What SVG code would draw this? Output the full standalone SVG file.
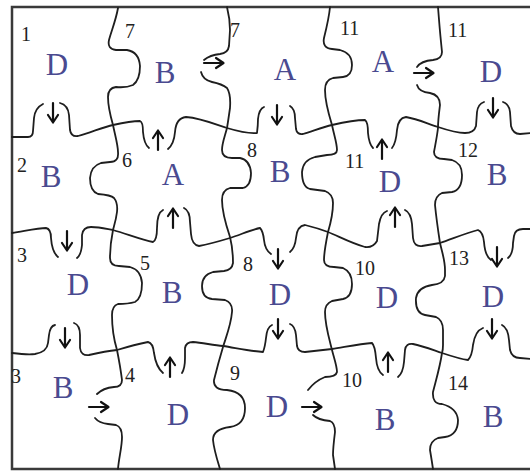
<svg xmlns="http://www.w3.org/2000/svg" xmlns:xlink="http://www.w3.org/1999/xlink" width="530" height="473" viewBox="0 0 530 473">
<style>
.cut{fill:none;stroke:#1e1e1e;stroke-width:1.8;stroke-linecap:round;stroke-linejoin:round}
.frame{fill:none;stroke:#3a3a3a;stroke-width:2.5}
.L{font-family:"Liberation Serif",serif;font-size:31px;fill:#4a4a90;text-anchor:middle}
.N{font-family:"Liberation Serif",serif;font-size:20px;fill:#222}
.arr{fill:none;stroke:#111;stroke-width:2.2;stroke-linecap:round;stroke-linejoin:round}
</style>
<defs>
<g id="ad"><path class="arr" d="M0,-10 L0,8"/><path class="arr" d="M-5,2 L0,9.5 L5,2"/></g>
</defs>
<rect width="530" height="473" fill="#fff"/>
<path class="frame" d="M531,7 L12,7 L12,469 L531,469"/>

<g id="cuts">
<path class="cut" d="M12,137 L28,137 Q33,137 33,131 L34,118 Q35,108 43,104"/>
<path class="cut" d="M60,103 Q68,105 69,115 L70,130 Q71,137 78,136 C90,133 103,127 113,125 C122,123 132,121 140,121 Q143,122 143,132 Q144,144 149,148"/>
<path class="cut" d="M168,149 Q174,144 175,132 Q176,118 186,117 C200,118 215,124 227,128 C237,131 248,134 257,133 Q258,125 258,119 Q259,109 264,107"/>
<path class="cut" d="M290,106 Q295,109 295,118 L296,129 Q297,135 303,134 C313,131 323,127 332,125 C345,122 355,120 365,120 Q368,122 368,133 Q369,144 373,148"/>
<path class="cut" d="M392,148 Q396,143 397,130 Q398,118 406,117 C418,119 428,124 438,127 C447,130 456,133 465,133 Q474,133 476,126 L477,112 Q478,104 484,102"/>
<path class="cut" d="M503,102 Q509,104 510,112 L511,126 Q513,134 520,134 L531,133"/>
<path class="cut" d="M12,233 C25,231 38,228 46,228 Q51,229 51,238 Q52,252 58,257"/>
<path class="cut" d="M77,258 Q81,255 82,245 L82,235 Q83,227 91,227 C100,227 107,229 113,230 C127,234 142,240 153,242 Q157,240 157,228 Q157,213 163,210"/>
<path class="cut" d="M184,208 Q190,211 190,222 L191,234 Q192,245 199,246 C210,244 220,241 230,238 C240,235 250,230 260,228 Q263,231 264,240 Q265,250 271,254"/>
<path class="cut" d="M290,252 Q295,248 296,238 Q297,226 305,225 C313,227 320,229 328,232 C340,237 353,244 365,247 Q373,248 377,241 L379,224 Q381,213 387,211"/>
<path class="cut" d="M405,210 Q411,213 412,224 L413,238 Q414,247 422,246 C428,245 434,244 440,243 C452,239 466,233 478,230 Q483,232 484,242 Q485,256 491,260"/>
<path class="cut" d="M508,258 Q513,254 513,243 L514,236 Q515,229 523,229 L531,229"/>
<path class="cut" d="M12,353 C20,354 28,355 35,354 Q47,352 48,343 L49,335 Q50,326 55,325"/>
<path class="cut" d="M74,323 Q80,325 80,335 L80,348 Q81,356 89,355 C98,353 108,351 117,350 C127,347 138,344 148,342 Q153,343 154,353 Q156,367 163,373"/>
<path class="cut" d="M182,373 Q185,368 185,358 L185,348 Q186,342 193,342 C203,343 213,345 223,346 C236,348 250,351 263,352 Q265,347 266,338 Q267,327 272,325"/>
<path class="cut" d="M290,324 Q295,326 296,335 L297,346 Q298,352 305,352 C314,351 323,350 332,349 C345,347 360,344 372,343 Q375,346 376,358 Q377,371 383,375"/>
<path class="cut" d="M398,377 Q403,373 404,362 L405,350 Q406,343 413,344 C423,346 433,350 442,353 C451,356 460,359 468,360 Q472,356 473,345 Q475,331 483,328"/>
<path class="cut" d="M502,325 Q508,328 509,340 L510,350 Q512,358 520,358 L531,359"/>
<path class="cut" d="M118,8 C116,20 111,32 109,40 Q107,49 116,50 L127,50 Q139,52 140,66 Q140,80 133,85 Q126,88 116,87 Q108,88 108,97 C108,107 111,118 113,125 C115,135 118,145 118,152 Q119,162 110,162 L101,163 Q91,166 90,178 Q90,191 98,194 Q111,195 114,198 Q118,203 117,212 C116,220 114,226 113,230 C111,240 110,250 110,258 Q110,266 119,266 L130,267 Q141,270 142,283 Q142,298 135,302 Q128,304 118,304 Q112,306 112,315 C112,325 114,340 117,350 C119,360 121,372 122,380 Q122,387 114,387 Q103,388 97,394"/>
<path class="cut" d="M95,418 Q99,423 108,424 L116,425 Q122,427 122,437 C122,447 119,457 118,469"/>
<path class="cut" d="M227,7 C229,15 230,22 230,30 L229,46 Q228,53 220,54 Q210,55 204,60"/>
<path class="cut" d="M201,72 Q203,80 212,82 Q222,84 227,88 Q231,94 230,108 C229,115 228,122 227,128 C225,136 222,143 222,150 Q222,158 232,158 L240,158 Q250,160 251,173 Q251,186 243,188 L230,188 Q222,190 222,200 C222,210 225,222 230,237 C232,245 233,255 233,263 Q232,270 224,271 L213,272 Q202,275 202,286 Q202,298 212,299 L225,300 Q233,303 232,312 C231,325 226,337 223,347 C220,357 217,368 214,380 Q213,390 227,390 Q245,392 245,408 Q245,425 230,427 Q213,429 213,440 C214,450 217,459 220,469"/>
<path class="cut" d="M330,7 C329,18 326,30 324,38 Q322,48 332,49 L340,50 Q352,53 352,65 Q352,76 343,77 L333,78 Q325,80 325,90 C325,100 328,112 332,125 C334,135 337,143 337,150 Q337,155 327,155 L315,157 Q303,160 302,172 Q302,187 310,189 L325,191 Q333,194 333,203 C333,212 331,222 328,232 C326,242 324,252 324,260 Q324,267 334,267 L343,268 Q352,272 352,284 Q352,297 343,299 L332,301 Q325,304 325,312 C325,325 329,338 332,350 C334,358 337,366 337,372 Q336,377 325,377 Q315,381 308,390"/>
<path class="cut" d="M313,415 Q318,420 330,421 Q335,423 335,432 C334,440 333,448 333,455 Q334,462 335,469"/>
<path class="cut" d="M438,7 C439,20 440,32 441,42 L442,52 Q442,59 433,60 Q421,61 417,67"/>
<path class="cut" d="M417,85 Q419,92 430,93 Q440,95 440,105 C439,113 438,120 438,128 C437,137 435,146 434,152 Q434,159 444,159 L452,160 Q462,163 462,175 Q462,190 452,192 L442,193 Q435,196 435,205 C436,215 438,230 440,243 C442,252 445,260 445,270 L445,276 Q444,284 432,285 Q418,287 416,298 Q415,313 425,315 L436,317 Q443,320 443,330 L443,345 Q443,350 442,353 C440,367 436,380 433,392 Q432,404 442,404 Q457,408 458,420 Q458,435 445,437 L438,438 Q430,441 430,450 C431,456 432,462 433,469"/>
</g>

<g id="arrows">
<use xlink:href="#ad" transform="translate(53,113)"/>
<use xlink:href="#ad" transform="translate(158,140) rotate(180)"/>
<use xlink:href="#ad" transform="translate(277,115)"/>
<use xlink:href="#ad" transform="translate(382,149) rotate(180)"/>
<use xlink:href="#ad" transform="translate(493,108)"/>
<use xlink:href="#ad" transform="translate(214,63) rotate(-90)"/>
<use xlink:href="#ad" transform="translate(424,73) rotate(-90)"/>
<use xlink:href="#ad" transform="translate(67,241)"/>
<use xlink:href="#ad" transform="translate(173,218) rotate(180)"/>
<use xlink:href="#ad" transform="translate(278,259)"/>
<use xlink:href="#ad" transform="translate(395,217) rotate(180)"/>
<use xlink:href="#ad" transform="translate(497,257)"/>
<use xlink:href="#ad" transform="translate(65,338)"/>
<use xlink:href="#ad" transform="translate(170,367) rotate(180)"/>
<use xlink:href="#ad" transform="translate(278,329)"/>
<use xlink:href="#ad" transform="translate(388,362) rotate(180)"/>
<use xlink:href="#ad" transform="translate(492,329)"/>
<use xlink:href="#ad" transform="translate(99,407) rotate(-90)"/>
<use xlink:href="#ad" transform="translate(312,407) rotate(-90)"/>
</g>

<g id="p1"><text class="N" x="21" y="41">1</text><text class="L" x="57" y="75">D</text></g>
<g id="p2"><text class="N" x="125" y="38">7</text><text class="L" x="165" y="83">B</text></g>
<g id="p3"><text class="N" x="230" y="37">7</text><text class="L" x="285" y="80">A</text></g>
<g id="p4"><text class="N" x="340" y="35">11</text><text class="L" x="383" y="72">A</text></g>
<g id="p5"><text class="N" x="448" y="37">11</text><text class="L" x="491" y="82">D</text></g>

<g id="p6"><text class="N" x="17" y="172">2</text><text class="L" x="51" y="187">B</text></g>
<g id="p7"><text class="N" x="122" y="167">6</text><text class="L" x="173" y="185">A</text></g>
<g id="p8"><text class="N" x="247" y="157">8</text><text class="L" x="280" y="182">B</text></g>
<g id="p9"><text class="N" x="345" y="168">11</text><text class="L" x="390" y="192">D</text></g>
<g id="p10"><text class="N" x="458" y="157">12</text><text class="L" x="497" y="185">B</text></g>

<g id="p11"><text class="N" x="17" y="262">3</text><text class="L" x="78" y="295">D</text></g>
<g id="p12"><text class="N" x="140" y="270">5</text><text class="L" x="172" y="303">B</text></g>
<g id="p13"><text class="N" x="243" y="271">8</text><text class="L" x="280" y="305">D</text></g>
<g id="p14"><text class="N" x="355" y="275">10</text><text class="L" x="387" y="308">D</text></g>
<g id="p15"><text class="N" x="449" y="265">13</text><text class="L" x="493" y="307">D</text></g>

<g id="p16"><text class="N" x="11" y="383">3</text><text class="L" x="63" y="398">B</text></g>
<g id="p17"><text class="N" x="125" y="382">4</text><text class="L" x="178" y="425">D</text></g>
<g id="p18"><text class="N" x="230" y="380">9</text><text class="L" x="277" y="417">D</text></g>
<g id="p19"><text class="N" x="342" y="387">10</text><text class="L" x="385" y="430">B</text></g>
<g id="p20"><text class="N" x="448" y="390">14</text><text class="L" x="493" y="427">B</text></g>
</svg>
